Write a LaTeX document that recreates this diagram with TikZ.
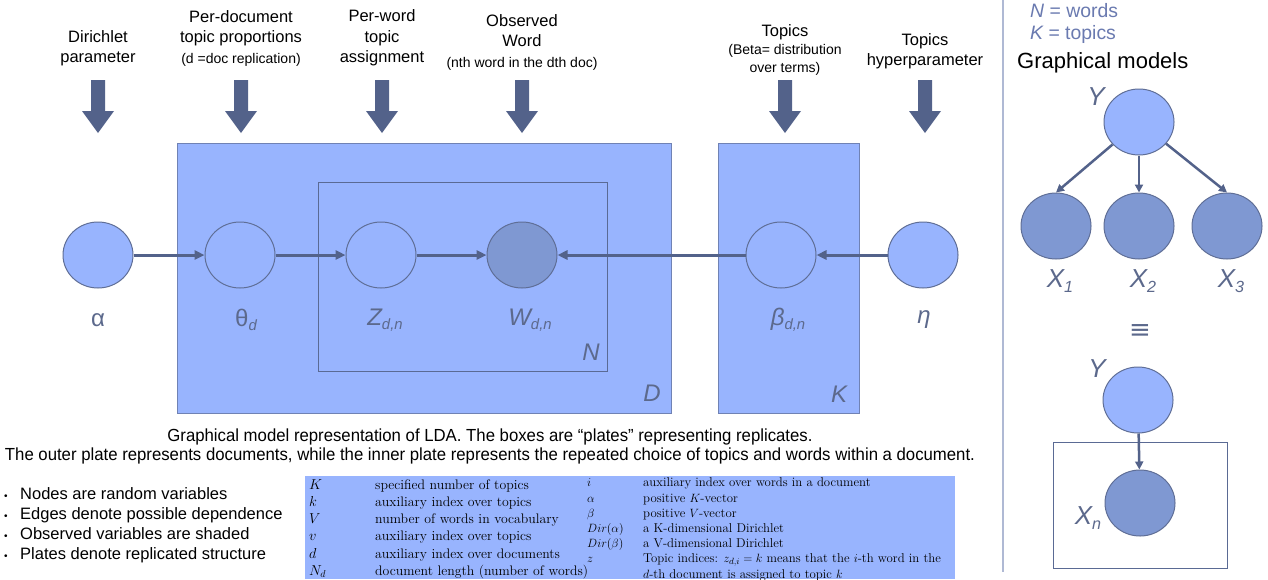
\documentclass[tikz,border=0pt]{standalone}
\usepackage{fontspec}
\newfontfamily\arial{Liberation Sans}
\newfontfamily\dejavu{DejaVu Sans}
\usetikzlibrary{shapes.geometric,arrows.meta}
\definecolor{plate}{RGB}{152,180,254}
\definecolor{platedraw}{RGB}{112,130,180}
\definecolor{innerdraw}{RGB}{90,106,148}
\definecolor{shade}{RGB}{127,152,210}
\definecolor{circdraw}{RGB}{95,110,150}
\definecolor{edgecol}{RGB}{83,98,138}
\definecolor{labcol}{RGB}{92,105,140}
\definecolor{nkcol}{RGB}{106,122,176}
\definecolor{sepcol}{RGB}{175,185,212}
\newcommand\sbs[1]{\raisebox{-0.35ex}{\scalebox{0.62}{#1}}}
\newcommand\fsz[1]{\fontsize{#1}{#1}\selectfont}
\tikzset{
  var/.style={ellipse, minimum width=70pt, minimum height=66pt, inner sep=0pt, draw=circdraw, line width=1pt, fill=plate},
  obs/.style={var, fill=shade},
  edge/.style={draw=edgecol, line width=3pt, -{Triangle[length=10pt,width=9pt]}},
  redge/.style={draw=edgecol, line width=2.5pt, -{Triangle[length=8pt,width=8pt]}},
  nlab/.style={font=\arial\fsz{24}, text=labcol, inner sep=0pt},
  toplab/.style={font=\arial\fontsize{16.5}{20.5}\selectfont, align=center, inner sep=0pt},
  caplab/.style={font=\arial\fsz{17.5}, inner sep=0pt},
  blockarrow/.pic={\fill[edgecol] (-7,0) -- (7,0) -- (7,31) -- (16,31) -- (0,53) -- (-16,31) -- (-7,31) -- cycle;}
}
\begin{document}
\begin{tikzpicture}[x=1pt,y=-1pt]
\useasboundingbox[fill=white] (0,0) rectangle (1268,579);

% plates
\filldraw[fill=plate, draw=platedraw, line width=1pt] (177,143) rectangle (671,413);
\draw[draw=innerdraw, line width=1pt] (318,182) rectangle (607,371);
\filldraw[fill=plate, draw=platedraw, line width=1pt] (718,143) rectangle (859,413);
\node[nlab, font=\arial\itshape\fsz{24}] (Nl) at (591,352) {N};
\node[nlab, font=\arial\itshape\fsz{24}] (Dl) at (652,393) {D};
\node[nlab, font=\arial\itshape\fsz{24}] (Kl) at (839,394) {K};

% nodes
\node[var] (alpha) at (98,255) {};
\node[var, fill=plate] (theta) at (240,255) {};
\node[var] (z) at (381,255) {};
\node[obs] (w) at (522,255) {};
\node[var] (beta) at (781,255) {};
\node[var] (eta) at (923,255) {};

\node[nlab] (alphal) at (98,320) {α};
\node[nlab] (thetal) at (246,320) {θ\sbs{\itshape d}};
\node[nlab] (zl) at (385,320) {\itshape Z\sbs{d,n}};
\node[nlab] (wl) at (530,320) {\itshape W\sbs{d,n}};
\node[nlab] (betal) at (788,320) {\itshape β\sbs{d,n}};
\node[nlab] (etal) at (924,320) {\itshape η};

\draw[edge] (alpha) -- (theta);
\draw[edge] (theta) -- (z);
\draw[edge] (z) -- (w);
\draw[edge] (beta) -- (w);
\draw[edge] (eta) -- (beta);

% top labels and block arrows
\node[toplab] (t1) at (98,48) {Dirichlet\\parameter};
\node[toplab] (t2) at (241,38) {Per-document\\topic proportions\\{\fontsize{14}{16}\selectfont (d =doc replication)}};
\node[toplab] (t3) at (382,38) {Per-word\\topic\\assignment};
\node[toplab] (t4) at (522,42) {Observed\\Word\\{\fontsize{14}{16}\selectfont (nth word in the dth doc)}};
\node[toplab, font=\arial\fontsize{14}{18}\selectfont] (t5) at (785,50) {{\fontsize{16.5}{18}\selectfont Topics}\\(Beta= distribution\\over terms)};
\node[toplab] (t6) at (925,51) {Topics\\hyperparameter};
\foreach \xx in {98,241,382,522,785,925} {\pic at (\xx,80) {blockarrow};}

% caption
\node[caplab] (cap1) at (490,437) {\scalebox{0.957}[1]{Graphical model representation of LDA. The boxes are “plates” representing replicates.}};
\node[caplab] (cap2) at (490,456) {\scalebox{0.957}[1]{The outer plate represents documents, while the inner plate represents the repeated choice of topics and words within a document.}};

% bullets
\node[anchor=west, align=left, inner sep=0pt, font=\arial\fontsize{16.5}{20}\selectfont] (bul) at (4,525)
 {\makebox[16pt][l]{\fsz{10}•}Nodes are random variables\\
  \makebox[16pt][l]{\fsz{10}•}Edges denote possible dependence\\
  \makebox[16pt][l]{\fsz{10}•}Observed variables are shaded\\
  \makebox[16pt][l]{\fsz{10}•}Plates denote replicated structure};

% table
\fill[plate] (305,476) rectangle (955,579);
\node[anchor=north west, inner sep=0pt, font=\fontsize{13.8}{17.2}\selectfont] (tabl) at (309,477)
 {\begin{tabular}{@{}p{66pt}@{}l@{}}
  $K$ & specified number of topics\\
  $k$ & auxiliary index over topics\\
  $V$ & number of words in vocabulary\\
  $v$ & auxiliary index over topics\\
  $d$ & auxiliary index over documents\\
  $N_d$ & document length (number of words)
  \end{tabular}};
\node[anchor=north west, inner sep=0pt, font=\fontsize{12.8}{15.2}\selectfont] (tabr) at (587,476)
 {\begin{tabular}{@{}p{56pt}@{}l@{}}
  $i$ & auxiliary index over words in a document\\
  $\alpha$ & positive $K$-vector\\
  $\beta$ & positive $V$-vector\\
  $Dir(\alpha)$ & a K-dimensional Dirichlet\\
  $Dir(\beta)$ & a V-dimensional Dirichlet\\
  $z$ & Topic indices: $z_{d,i}=k$ means that the $i$-th word in the\\
   & $d$-th document is assigned to topic $k$
  \end{tabular}};

% right panel
\draw[sepcol, line width=1.2pt] (1003,0) -- (1003,572);
\node[anchor=west, inner sep=0pt, font=\arial\fsz{19.4}, text=nkcol] (nw) at (1030,11) {\itshape N\upshape{} = words};
\node[anchor=west, inner sep=0pt, font=\arial\fsz{19.4}, text=nkcol] (kt) at (1030,34) {\itshape K\upshape{} = topics};
\node[anchor=west, inner sep=0pt, font=\arial\fsz{22}] (gm) at (1017,63) {Graphical models};

\node[var] (Y) at (1139,122) {};
\node[nlab, font=\arial\itshape\fsz{26}] (Yl) at (1096,97) {Y};
\node[obs] (X1) at (1056,226) {};
\node[obs] (X2) at (1139,226) {};
\node[obs] (X3) at (1227,226) {};
\node[nlab, font=\arial\fsz{26}] (X1l) at (1060,281) {\itshape X\sbs{1}};
\node[nlab, font=\arial\fsz{26}] (X2l) at (1143,281) {\itshape X\sbs{2}};
\node[nlab, font=\arial\fsz{26}] (X3l) at (1231,281) {\itshape X\sbs{3}};
\draw[redge] (Y) -- (X1.north);
\draw[redge] (Y) -- (X2);
\draw[redge] (Y) -- (X3.north);
\node[nlab, font=\dejavu\fsz{26}] (eq) at (1140,332) {≡};

\node[var] (Y2) at (1138,400) {};
\node[nlab, font=\arial\itshape\fsz{26}] (Y2l) at (1097,369) {Y};
\draw[innerdraw, line width=1pt] (1053,442) rectangle (1227,568);
\node[obs] (Xn) at (1140,503) {};
\node[nlab, font=\arial\fsz{26}] (Xnl) at (1088,518) {\itshape X\sbs{n}};
\draw[redge] (Y2) -- (Xn);
\end{tikzpicture}
\end{document}
